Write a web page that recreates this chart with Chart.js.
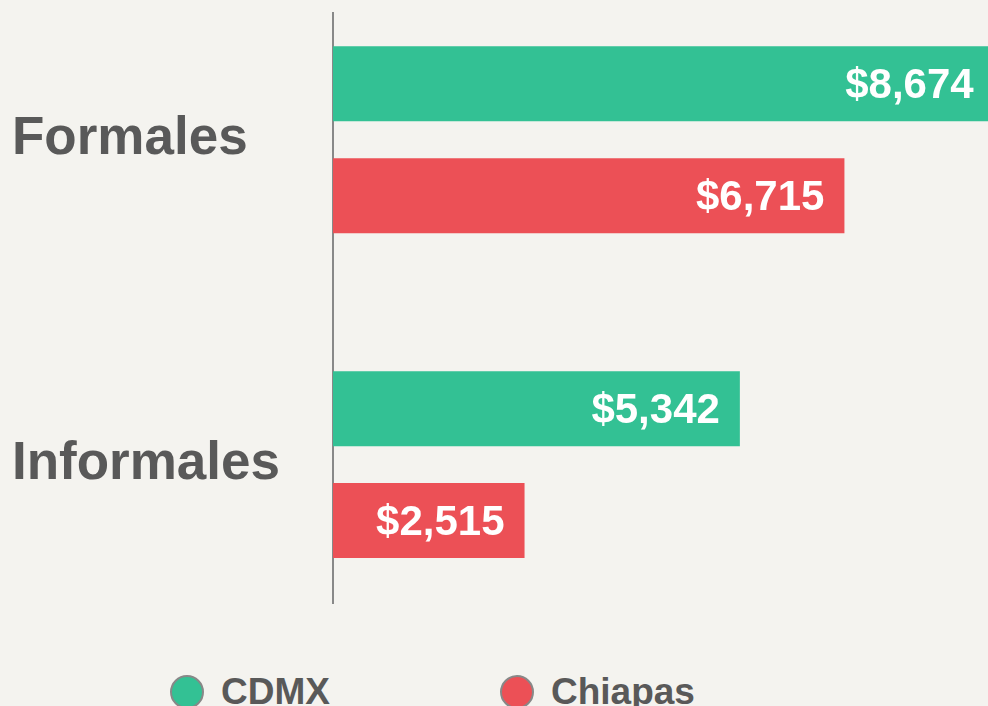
<!DOCTYPE html>
<html>
<head>
<meta charset="utf-8">
<script src="https://cdn.jsdelivr.net/npm/chart.js@4"></script>
<style>
  html, body { margin: 0; padding: 0; background: #f4f3ef; overflow: hidden; }
  #wrap { position: relative; width: 988px; height: 706px; }
  #legend {
    position: absolute; left: 170px; top: 671px;
    display: flex; gap: 170px;
    font: bold 37px "Liberation Sans", Arial, sans-serif; color: #595959;
  }
  .item { display: flex; align-items: center; }
  .dot { width: 30px; height: 30px; border-radius: 50%; border: 2px solid #888; margin-right: 17px; }
</style>
</head>
<body>
<div id="wrap">
  <canvas id="chart" width="988" height="620"></canvas>
  <div id="legend"></div>
</div>
<script>
// data
const categories = ['Formales', 'Informales'];
const cdmx = [8674, 5342];
const chiapas = [6715, 2515];
const seriesNames = ['CDMX', 'Chiapas'];

const green = '#33c194';
const red = '#ec5056';
const font = '"Liberation Sans", Arial, sans-serif';

const valueLabels = {
  id: 'valueLabels',
  afterDatasetsDraw(chart) {
    const ctx = chart.ctx;
    ctx.save();
    ctx.font = 'bold 42px ' + font;
    ctx.fillStyle = '#ffffff';
    ctx.textAlign = 'right';
    ctx.textBaseline = 'middle';
    chart.data.datasets.forEach((ds, i) => {
      chart.getDatasetMeta(i).data.forEach((bar, j) => {
        ctx.fillText('$' + ds.data[j].x.toLocaleString('en-US'), bar.x - 20, bar.y + 3);
      });
    });
    ctx.restore();
  }
};

const chart = new Chart(document.getElementById('chart'), {
  type: 'bar',
  data: {
    datasets: [{
      label: seriesNames[0],
      backgroundColor: green,
      data: categories.map((c, i) => ({ y: i, x: cdmx[i] }))
    }, {
      label: seriesNames[1],
      backgroundColor: red,
      data: categories.map((c, i) => ({ y: i, x: chiapas[i] }))
    }]
  },
  options: {
    indexAxis: 'y',
    responsive: false,
    animation: false,
    categoryPercentage: 0.689,
    barPercentage: 0.67,
    layout: { padding: { left: 12, top: 13, right: 0, bottom: 17 } },
    scales: {
      x: { display: false, min: 0, max: 8600 },
      y: {
        type: 'linear',
        offset: false,
        reverse: true,
        min: -0.39,
        max: 1.426,
        grid: { display: false, offset: false },
        border: { display: true, color: '#888888', width: 2 },
        afterBuildTicks: s => { s.ticks = categories.map((c, i) => ({ value: i })); },
        afterFit: s => { s.width = 321; s.paddingTop = 0; s.paddingBottom = 0; },
        ticks: {
          crossAlign: 'far',
          color: '#595959',
          font: { family: font, size: 53, weight: 'bold' },
          callback: v => categories[v]
        }
      }
    },
    plugins: {
      legend: { display: false },
      tooltip: { enabled: false }
    }
  },
  plugins: [valueLabels]
});

// html legend
const legend = document.getElementById('legend');
chart.data.datasets.forEach(ds => {
  const item = document.createElement('div');
  item.className = 'item';
  item.innerHTML = `<span class="dot" style="background:${ds.backgroundColor}"></span><span>${ds.label}</span>`;
  legend.appendChild(item);
});
</script>
</body>
</html>
